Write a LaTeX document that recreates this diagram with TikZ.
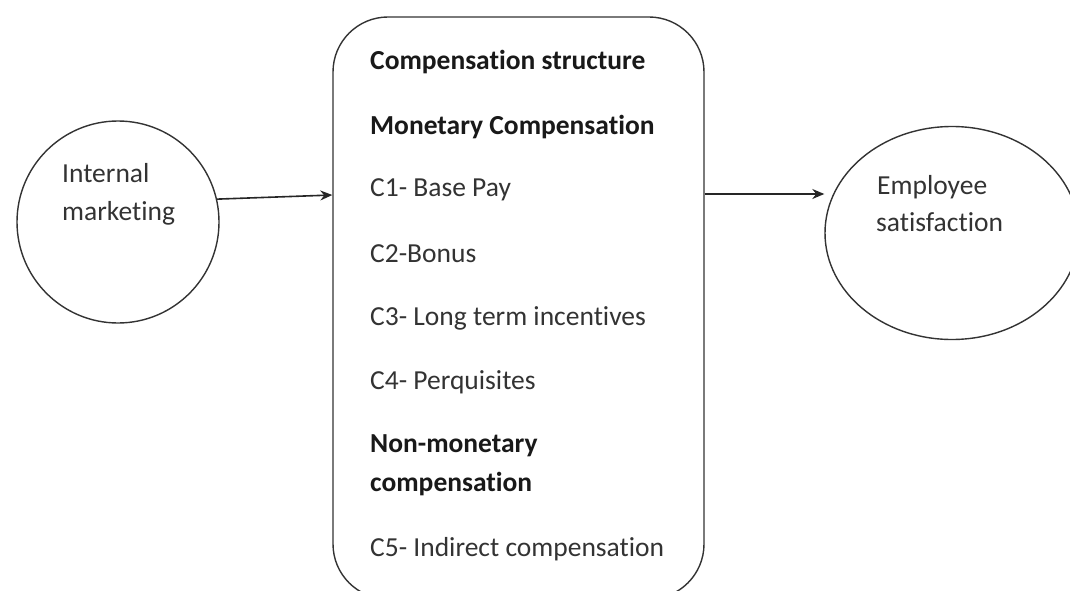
\documentclass[tikz,border=0pt]{standalone}
\usepackage{fontspec}
\setmainfont{Carlito}[RawFeature={-liga}]
\usetikzlibrary{arrows.meta,shapes.geometric}
\begin{document}
\begin{tikzpicture}[x=1pt,y=-1pt,
  ink/.style={draw=black!80,line width=1.4pt},
  arr/.style={draw=black!85,line width=1.6pt,-{Stealth[length=12pt,width=10pt]}},
  lbl/.style={anchor=west,inner sep=0pt,font=\fontsize{27.5}{31}\selectfont,text=black!80},
  hdr/.style={anchor=west,inner sep=0pt,font=\fontsize{27.5}{31}\selectfont\bfseries,text=black!90}]
\useasboundingbox (0,0) rectangle (1070,591);
\clip (0,0) rectangle (1070,591);
\fill[white] (0,0) rectangle (1070,591);
% shapes
\node[ink,circle,minimum size=202pt,inner sep=0pt] (left) at (118,222) {};
\node[ink,ellipse,minimum width=254pt,minimum height=213pt,inner sep=0pt] (right) at (952,233) {};
\node[ink,rectangle,rounded corners=55pt,minimum width=371pt,minimum height=582pt,inner sep=0pt] (box) at (518.5,308) {};
% labels in circles
\node[lbl] (t1a) at (62,173) {Internal};
\node[lbl] (t1b) at (62,213) {marketing};
\node[lbl] (t2a) at (877,187) {Employee};
\node[lbl] (t2b) at (876,222) {satisfaction};
% box contents
\node[hdr] (h1) at (370,62) {Compensation structure};
\node[hdr] (h2) at (370,127) {Monetary Compensation};
\node[lbl] (c1) at (370,190) {C1- Base Pay};
\node[lbl] (c2) at (370,254) {C2-Bonus};
\node[lbl] (c3) at (370,318) {C3- Long term incentives};
\node[lbl] (c4) at (370,382) {C4- Perquisites};
\node[hdr] (h3) at (370,446) {Non-monetary};
\node[hdr] (h3b) at (370,484) {compensation};
\node[lbl] (c5) at (370,549) {C5- Indirect compensation};
% connectors
\coordinate (y1) at (0,195);
\coordinate (y2) at (0,194);
\draw[arr] (left.13) -- (box.west |- y1);
\draw[arr] (box.east |- y2) -- (right.west |- y2);
\end{tikzpicture}
\end{document}
